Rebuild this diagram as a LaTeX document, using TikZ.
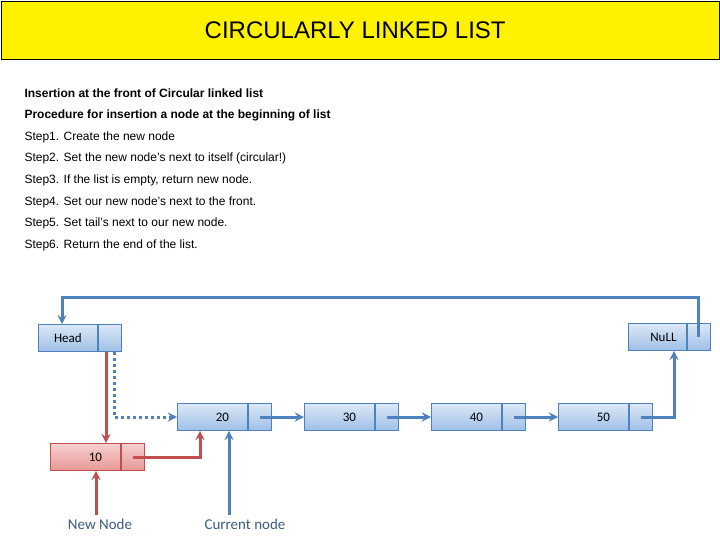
\documentclass[tikz,border=0pt]{standalone}
\usepackage{fontspec}
\setmainfont{Liberation Sans}
\newfontfamily\calib{Carlito}
\usetikzlibrary{arrows}
\definecolor{boxtop}{HTML}{DCE8F6}
\definecolor{boxbot}{HTML}{9EBFE6}
\definecolor{boxline}{HTML}{4F81BD}
\definecolor{redtop}{HTML}{F8D0D0}
\definecolor{redbot}{HTML}{E69794}
\definecolor{redline}{HTML}{C0504D}
\definecolor{labcol}{HTML}{3E5B80}
\tikzstyle{cell} = [rectangle, draw=boxline, thick, top color=boxtop, bottom color=boxbot, minimum height=27pt, inner sep=0pt, font=\calib\fontsize{13}{13}\selectfont]
\tikzstyle{rcell} = [cell, draw=redline, top color=redtop, bottom color=redbot]
\tikzstyle{arrow} = [line width=3pt, boxline, ->, >=stealth]
\tikzstyle{rarrow} = [arrow, redline]
\tikzstyle{stepline} = [anchor=west, font=\fontsize{12}{12}\selectfont]
\begin{document}
\begin{tikzpicture}[x=1pt, y=-1pt]
\useasboundingbox (0,0) rectangle (720,540);
\node (title) [draw, fill=yellow, minimum width=718pt, minimum height=58pt, anchor=north west, font=\fontsize{24}{24}\selectfont] at (1,1) {\hspace*{-10pt}CIRCULARLY LINKED LIST};

%Steps
\node (s1) [stepline, font=\bfseries\fontsize{12}{12}\selectfont] at (21,93) {Insertion at the front of Circular linked list};
\node (s2) [stepline, font=\bfseries\fontsize{12}{12}\selectfont] at (21,115) {Procedure for insertion a node at the beginning of list};
\node (s3) [stepline] at (21,137) {Step1. Create the new node};
\node (s4) [stepline] at (21,158) {Step2. Set the new node’s next to itself (circular!)};
\node (s5) [stepline] at (21,180) {Step3. If the list is empty, return new node.};
\node (s6) [stepline] at (21,202) {Step4. Set our new node’s next to the front.};
\node (s7) [stepline] at (21,223) {Step5. Set tail’s next to our new node.};
\node (s8) [stepline] at (21,245) {Step6. Return the end of the list.};

%Nodes
\node (head) [cell, minimum width=59pt, anchor=west] at (38,338) {Head};
\node (headp) [cell, minimum width=23pt, anchor=west] at (head.east) {};
\node (n20) [cell, minimum width=70pt, anchor=west] at (177,417) {\hspace*{20pt}20};
\node (n20p) [cell, minimum width=23pt, anchor=west] at (n20.east) {};
\node (n30) [cell, minimum width=70pt, anchor=west] at (304,417) {\hspace*{20pt}30};
\node (n30p) [cell, minimum width=23pt, anchor=west] at (n30.east) {};
\node (n40) [cell, minimum width=70pt, anchor=west] at (431,417) {\hspace*{20pt}40};
\node (n40p) [cell, minimum width=23pt, anchor=west] at (n40.east) {};
\node (n50) [cell, minimum width=70pt, anchor=west] at (558,417) {\hspace*{20pt}50};
\node (n50p) [cell, minimum width=23pt, anchor=west] at (n50.east) {};
\node (null) [cell, minimum width=58pt, anchor=west] at (628,337) {\hspace*{12pt}NuLL};
\node (nullp) [cell, minimum width=23pt, anchor=west] at (null.east) {};
\node (n10) [rcell, minimum width=70pt, anchor=west] at (50,457) {\hspace*{20pt}10};
\node (n10p) [rcell, minimum width=23pt, anchor=west] at (n10.east) {};

\node (newlab) [text=labcol, font=\calib\fontsize{15}{15}\selectfont] at (100,524) {New Node};
\node (curlab) [text=labcol, font=\calib\fontsize{15}{15}\selectfont] at (245,524) {Current node};

%Links
\draw [arrow] (nullp.center) -- ++(0,-40) -| (head.north -| 62,0);
\draw [arrow, dashed] (headp.south -| 114,0) |- (n20.west);
\draw [rarrow] (headp.south -| 106,0) -- (n10.north -| 106,0);
\draw [rarrow] (n10p.center) -| (n20.south -| 200,0);
\draw [arrow] (curlab.north -| 229,0) -- (n20.south -| 229,0);
\draw [rarrow] (newlab.north -| 96,0) -- (n10.south -| 96,0);
\draw [arrow] (n20p.center) -- (n30.west);
\draw [arrow] (n30p.center) -- (n40.west);
\draw [arrow] (n40p.center) -- (n50.west);
\draw [arrow] (n50p.center) -| (null.south -| 674,0);
\end{tikzpicture}
\end{document}
